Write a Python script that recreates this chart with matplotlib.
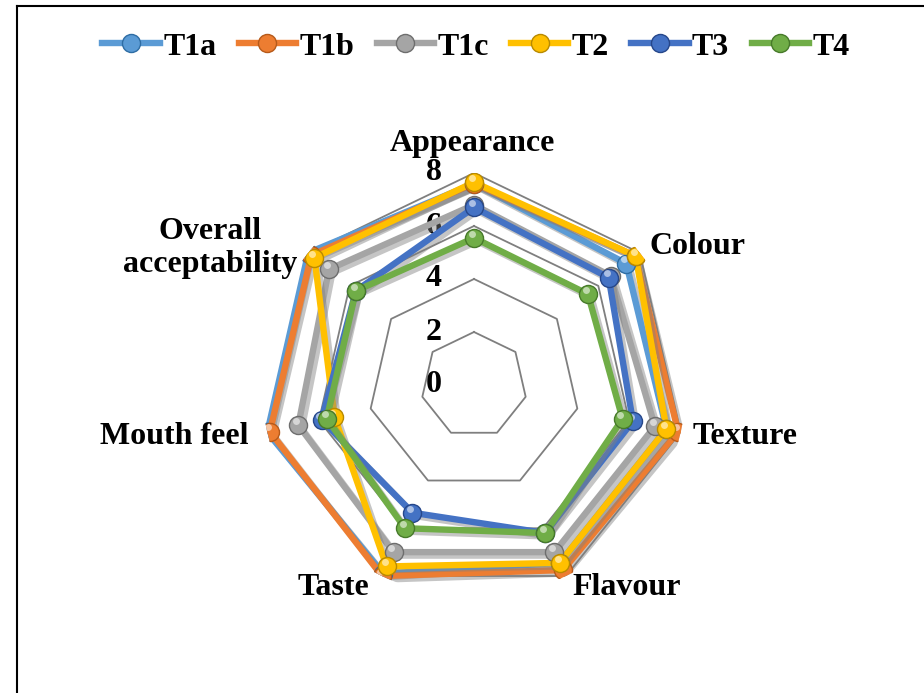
import numpy as np
import matplotlib.pyplot as plt
import matplotlib.patheffects as pe
from matplotlib.lines import Line2D
from matplotlib.transforms import ScaledTranslation

# -------------------------------
# Daten
# -------------------------------
categories = ["Appearance", "Colour", "Texture", "Flavour", "Taste",
              "Mouth feel", "Overall\nacceptability"]
T1a = [7.6, 7.35, 7.45, 7.45, 7.9, 8.0, 8.0]
T1b = [7.6, 7.8, 7.9, 7.75, 8.0, 7.9, 7.85]
T1c = [6.8, 6.6, 7.0, 7.0, 7.0, 6.8, 7.0]
T2 = [7.65, 7.8, 7.45, 7.45, 7.6, 5.4, 7.7]
T3 = [6.7, 6.5, 6.15, 6.2, 5.35, 5.9, 5.7]
T4 = [5.55, 5.5, 5.75, 6.2, 6.0, 5.7, 5.7]
series_names = ["T1a", "T1b", "T1c", "T2", "T3", "T4"]
series_values = [T1a, T1b, T1c, T2, T3, T4]
levels = [0, 2, 4, 6, 8]

colors = ["#5B9BD5", "#ED7D31", "#A5A5A5", "#FFC000", "#4472C4", "#70AD47"]
edge_colors = ["#2E6DA4", "#B65A1A", "#6E6E6E", "#B88A00", "#26478A", "#477A2A"]

plt.rcParams['font.family'] = ['Liberation Serif', 'DejaVu Serif']
plt.rcParams['font.weight'] = 'bold'

n = len(categories)
angles = np.arange(n) * 2 * np.pi / n
angles_closed = np.append(angles, angles[0])

fig = plt.figure(figsize=(9.24, 6.93), dpi=100)
ax = fig.add_axes([262 / 924, 96 / 693, 424 / 924, 424 / 693], projection='polar')
ax.set_theta_offset(np.pi / 2)
ax.set_theta_direction(-1)
ax.set_ylim(0, 8)
ax.set_xticks([])
ax.set_yticks([])
ax.grid(False)
ax.spines['polar'].set_visible(False)
ax.patch.set_alpha(0)

# Gitternetz (Siebenecke)
for lv in levels[1:]:
    ax.plot(angles_closed, [lv] * (n + 1), color="#7F7F7F", lw=1.3, zorder=1)

# Achsenbeschriftung 0..8
for lv in levels:
    ax.annotate(str(lv), xy=(0, lv), xytext=(-40, 0), textcoords='offset pixels',
                ha='center', va='center', fontsize=23, fontweight='bold', zorder=2)

# Linien mit Schatten
shadow = [pe.SimpleLineShadow(offset=(2.5, -2.5), shadow_color='#808080', alpha=0.45),
          pe.Normal()]
for i, (name, vals) in enumerate(zip(series_names, series_values)):
    v = np.append(vals, vals[0])
    ax.plot(angles_closed, v, color=colors[i], lw=4.6, solid_joinstyle='miter',
            path_effects=shadow, zorder=3 + i)

# Kugel-Marker
hl = ax.transData + ScaledTranslation(-1.5 / 72, 3 / 72, fig.dpi_scale_trans)
for i, vals in enumerate(series_values):
    ax.plot(angles, vals, ls='none', marker='o', ms=13, mfc=colors[i],
            mec=edge_colors[i], mew=1.0, zorder=10 + i)
    ax.plot(angles, vals, ls='none', marker='o', ms=5, mfc='white', mec='none',
            alpha=0.55, transform=hl, zorder=10 + i)

# Kategorien
label_pos = [((-2, 29), 'center', 'center'),
             ((10, 6), 'left', 'center'),
             ((12, -4), 'left', 'center'),
             ((6, -11), 'left', 'center'),
             ((-13, -11), 'right', 'center'),
             ((-19, -4), 'right', 'center'),
             ((-11, 5), 'right', 'center')]
for ang, cat, (off, ha, va) in zip(angles, categories, label_pos):
    ax.annotate(cat, xy=(ang, 8), xytext=off, textcoords='offset pixels',
                ha=ha, va=va, multialignment='center', fontsize=23,
                fontweight='bold', linespacing=1.2)

# Legende
handles = [Line2D([0], [0], color=colors[i], lw=4.6, marker='o', ms=13,
                  mfc=colors[i], mec=edge_colors[i]) for i in range(len(series_names))]
fig.legend(handles, series_names, loc='center', bbox_to_anchor=(476 / 924, 1 - 47 / 693),
           ncol=6, frameon=False, handlelength=1.8, handletextpad=0.1,
           columnspacing=0.7, prop={'weight': 'bold', 'size': 23})

# Rahmen
fig.add_artist(Line2D([17 / 924, 17 / 924], [0, 1 - 6 / 693], color='black', lw=1.5))
fig.add_artist(Line2D([17 / 924, 1], [1 - 6 / 693, 1 - 6 / 693], color='black', lw=1.5))

plt.savefig("out.png", dpi=100)
